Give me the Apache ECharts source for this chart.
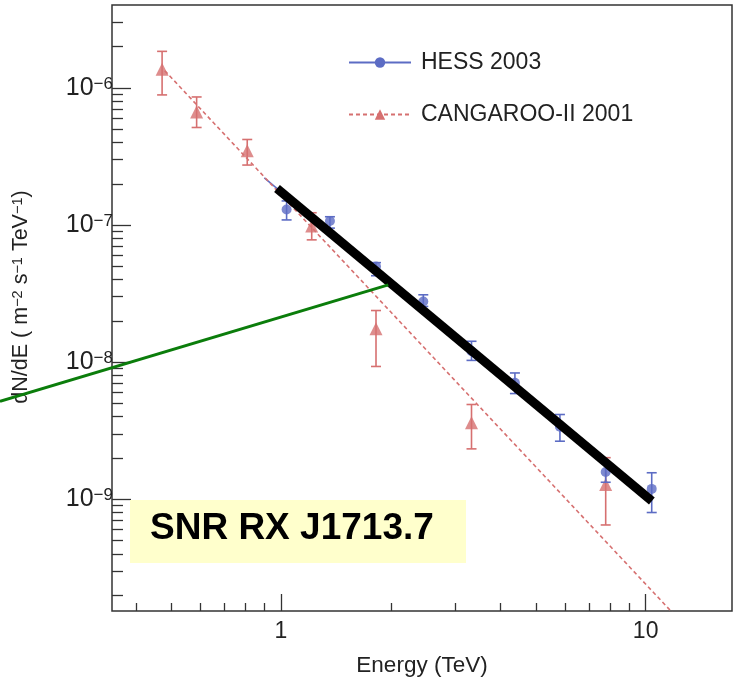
<!DOCTYPE html>
<html>
<head>
<meta charset="utf-8">
<script src="https://cdn.jsdelivr.net/npm/echarts@6/dist/echarts.min.js"></script>
<style>
html,body{margin:0;padding:0;background:#fff;}
#chart{width:734px;height:682px;}
</style>
</head>
<body>
<div id="chart"></div>
<script>
// ---- data ----
const hessEnergy = [1.036, 1.362, 1.822, 2.456, 3.33, 4.38, 5.82, 7.77, 10.39];
const hessFlux   = [1.30e-7, 1.07e-7, 4.98e-8, 2.77e-8, 1.20e-8, 7.06e-9, 3.38e-9, 1.58e-9, 1.19e-9];
const hessLow    = [1.09e-7, 9.5e-8, 4.27e-8, 2.55e-8, 1.03e-8, 5.9e-9, 2.65e-9, 1.33e-9, 8.0e-10];
const hessHigh   = [1.50e-7, 1.15e-7, 5.32e-8, 3.10e-8, 1.42e-8, 8.34e-9, 4.15e-9, 1.85e-9, 1.56e-9];

const cangEnergy = [0.472, 0.587, 0.808, 1.214, 1.822, 3.33, 7.77];
const cangFlux   = [1.37e-6, 6.68e-7, 3.48e-7, 9.85e-8, 1.75e-8, 3.61e-9, 1.28e-9];
const cangLow    = [8.9e-7, 5.15e-7, 2.74e-7, 7.8e-8, 9.3e-9, 2.33e-9, 6.49e-10];
const cangHigh   = [1.85e-6, 8.6e-7, 4.21e-7, 1.23e-7, 2.38e-8, 4.91e-9, 2.01e-9];

const hessFitEnergy = [0.9, 10.4];
const hessFitFlux   = [2.21e-7, 9.7e-10];
const cangFitEnergy = [0.48, 13];
const cangFitFlux   = [1.337e-6, 1.141e-10];
const blackFitEnergy = [0.975, 10.4];
const blackFitFlux   = [1.85e-7, 9.7e-10];
const greenEnergy = [0.1696, 1.969];
const greenFlux   = [5.19e-9, 3.66e-8];

const xMajorTicks = [1, 10];
const xMinorTicks = [0.4, 0.5, 0.6, 0.7, 0.8, 0.9, 2, 3, 4, 5, 6, 7, 8, 9];
const yMajorTicks = [1e-9, 1e-8, 1e-7, 1e-6];
const yMinorTicks = [2e-10, 3e-10, 4e-10, 5e-10, 6e-10, 7e-10, 8e-10, 9e-10,
                     2e-9, 3e-9, 4e-9, 5e-9, 6e-9, 7e-9, 8e-9, 9e-9,
                     2e-8, 3e-8, 4e-8, 5e-8, 6e-8, 7e-8, 8e-8, 9e-8,
                     2e-7, 3e-7, 4e-7, 5e-7, 6e-7, 7e-7, 8e-7, 9e-7,
                     2e-6, 3e-6];
const xMin = 0.344, xMax = 17.25;
const yMin = 1.53e-10, yMax = 4.03e-6;

// ---- styling ----
const FONT = 'Liberation Sans, Arial, Helvetica, sans-serif';
const BLUE = '#5c6cc4';
const RED = '#d67070';
const AX = '#333';

const zip = (a, b) => a.map((v, i) => [v, b[i]]);

function errBar(color) {
  return function (params, api) {
    const x = api.value(0);
    const pLo = api.coord([x, api.value(1)]);
    const pHi = api.coord([x, api.value(2)]);
    const w = 5;
    const st = { stroke: color, lineWidth: 1.6 };
    return {
      type: 'group',
      children: [
        { type: 'line', shape: { x1: pLo[0], y1: pLo[1], x2: pHi[0], y2: pHi[1] }, style: st },
        { type: 'line', shape: { x1: pLo[0] - w, y1: pLo[1], x2: pLo[0] + w, y2: pLo[1] }, style: st },
        { type: 'line', shape: { x1: pHi[0] - w, y1: pHi[1], x2: pHi[0] + w, y2: pHi[1] }, style: st }
      ]
    };
  };
}

// green segment drawn through the axes' scales, allowed to run past the plot frame
function segment(params, api) {
  if (params.dataIndex !== 0) return null;
  const p0 = api.coord([greenEnergy[0], greenFlux[0]]);
  const p1 = api.coord([greenEnergy[1], greenFlux[1]]);
  return { type: 'line', shape: { x1: p0[0], y1: p0[1], x2: p1[0], y2: p1[1] },
           style: { stroke: '#0b7d0b', lineWidth: 3 } };
}

function xAxisDef(ticks, len, showLabel) {
  return {
    type: 'log', logBase: 10, min: xMin, max: xMax, position: 'bottom', gridIndex: 0,
    axisLine: { show: false },
    splitLine: { show: false },
    axisTick: { show: true, inside: true, length: len, customValues: ticks, lineStyle: { color: AX, width: 1.3 } },
    axisLabel: showLabel ? {
      show: true, customValues: ticks, margin: 9, color: '#222', fontFamily: FONT, fontSize: 23,
      formatter: v => String(Math.round(v))
    } : { show: false }
  };
}
function yAxisDef(ticks, len, showLabel) {
  return {
    type: 'log', logBase: 10, min: yMin, max: yMax, position: 'left', gridIndex: 0,
    axisLine: { show: false },
    splitLine: { show: false },
    axisTick: { show: true, inside: true, length: len, customValues: ticks, lineStyle: { color: AX, width: 1.3 } },
    axisLabel: showLabel ? {
      show: true, customValues: ticks, margin: -1, color: '#222', fontFamily: FONT, fontSize: 25,
      formatter: v => '10{s|\u2212' + (-Math.round(Math.log10(v))) + '}',
      rich: { s: { fontSize: 17, fontFamily: FONT, color: '#222', verticalAlign: 'top', padding: [0, 0, 8, 0] } }
    } : { show: false }
  };
}

const chart = echarts.init(document.getElementById('chart'), null, { renderer: 'canvas' });

const option = {
  animation: false,
  backgroundColor: '#fff',
  grid: { left: 112, top: 5, right: 2, bottom: 70, show: true, borderColor: AX, borderWidth: 1.5, backgroundColor: 'transparent' },
  xAxis: [
    Object.assign(xAxisDef(xMajorTicks, 17, true), {
      name: 'Energy (TeV)', nameLocation: 'middle', nameGap: 43,
      nameTextStyle: { fontFamily: FONT, fontSize: 22.5, color: '#222' }
    }),
    xAxisDef(xMinorTicks, 8, false)
  ],
  yAxis: [
    Object.assign(yAxisDef(yMajorTicks, 19, true), {
      name: '{n|dN/dE ( m}{s|\u22122}{n| s}{s|\u22121}{n| TeV}{s|\u22121}{n|)}',
      nameLocation: 'middle', nameGap: 80,
      nameTextStyle: {
        padding: [0, 0, 0, 22],
        rich: {
          n: { fontFamily: FONT, fontSize: 21.5, color: '#222' },
          s: { fontFamily: FONT, fontSize: 14.5, color: '#222', verticalAlign: 'top', padding: [0, 0, 6, 0] }
        }
      }
    }),
    yAxisDef(yMinorTicks, 11, false)
  ],
  legend: {
    orient: 'vertical', left: 343, top: 46, itemWidth: 62, itemHeight: 13, itemGap: 29,
    textStyle: { fontFamily: FONT, fontSize: 23, color: '#222', padding: [0, 0, 0, 5] },
    data: ['HESS 2003', 'CANGAROO-II 2001']
  },
  graphic: [
    { type: 'rect', left: 130, top: 500, z: 100, shape: { width: 336, height: 63 }, style: { fill: '#ffffcc' } },
    { type: 'text', left: 150, top: 510, z: 101, style: { text: 'SNR RX J1713.7', fill: '#000', font: 'bold 37px ' + FONT } }
  ],
  series: [
    { name: 'HESS 2003', type: 'line', xAxisIndex: 0, yAxisIndex: 0, data: zip(hessFitEnergy, hessFitFlux),
      symbol: 'circle', symbolSize: 10, showSymbol: false, itemStyle: { color: BLUE },
      lineStyle: { color: BLUE, width: 1.5 }, z: 3 },
    { name: 'CANGAROO-II 2001', type: 'line', xAxisIndex: 0, yAxisIndex: 0, data: zip(cangFitEnergy, cangFitFlux),
      symbol: 'triangle', symbolSize: 12, showSymbol: false, itemStyle: { color: RED },
      lineStyle: { color: RED, width: 1.6, type: [4, 3] }, z: 3 },
    { name: 'CANGAROO-II 2001', type: 'custom', xAxisIndex: 0, yAxisIndex: 0,
      data: cangEnergy.map((e, i) => [e, cangLow[i], cangHigh[i]]), renderItem: errBar(RED), z: 4 },
    { name: 'CANGAROO-II 2001', type: 'scatter', xAxisIndex: 0, yAxisIndex: 0, data: zip(cangEnergy, cangFlux),
      symbol: 'triangle', symbolSize: 13, itemStyle: { color: RED }, z: 5 },
    { name: 'HESS 2003', type: 'custom', xAxisIndex: 0, yAxisIndex: 0,
      data: hessEnergy.map((e, i) => [e, hessLow[i], hessHigh[i]]), renderItem: errBar(BLUE), z: 6 },
    { name: 'HESS 2003', type: 'scatter', xAxisIndex: 0, yAxisIndex: 0, data: zip(hessEnergy, hessFlux),
      symbol: 'circle', symbolSize: 10, itemStyle: { color: BLUE }, z: 7 },
    { name: 'fit', type: 'line', xAxisIndex: 0, yAxisIndex: 0, data: zip(blackFitEnergy, blackFitFlux),
      symbol: 'none', lineStyle: { color: '#000', width: 9, cap: 'butt' }, z: 8 },
    { name: 'slope', type: 'custom', xAxisIndex: 0, yAxisIndex: 0, clip: false,
      data: zip(greenEnergy, greenFlux), renderItem: segment, z: 9 }
  ]
};
chart.setOption(option);
</script>
</body>
</html>
